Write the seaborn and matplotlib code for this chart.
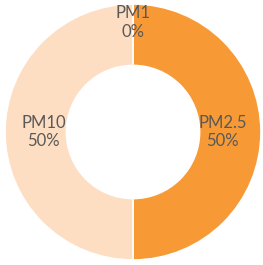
import seaborn as sns
import matplotlib.pyplot as plt

# chart data
categories = ['PM1', 'PM2.5', 'PM10']
values = [0, 50, 50]
colors = ['#F79A36', '#F79A36', '#FDDEC3']

sns.set_theme(style='white')
plt.rcParams['font.family'] = ['Lato', 'DejaVu Sans']

fig = plt.figure(figsize=(2.63, 2.65), dpi=100)
ax = fig.add_axes([0, 0, 1, 1])

total = sum(values)
labels = [f'{c}\n{round(v / total * 100)}%' for c, v in zip(categories, values)]

wedges, texts = ax.pie(values, labels=labels, colors=colors, startangle=90,
                       counterclock=False, radius=1.0, labeldistance=0.70,
                       wedgeprops=dict(width=0.48, edgecolor='white', linewidth=1.2),
                       textprops=dict(color='#595959', fontsize=12, ha='center',
                                      va='center', linespacing=1.2))

# zero-sized slice: push its label out toward the rim
for t, v in zip(texts, values):
    if v == 0:
        x, y = t.get_position()
        t.set_position((x * 1.22, y * 1.22))

ax.set_aspect('equal', adjustable='datalim')
ax.set_xlim(-133 / 128, 130 / 128)
ax.set_ylim(-133 / 128, 132 / 128)
ax.axis('off')

fig.savefig('out.png', dpi=100, facecolor='white')
